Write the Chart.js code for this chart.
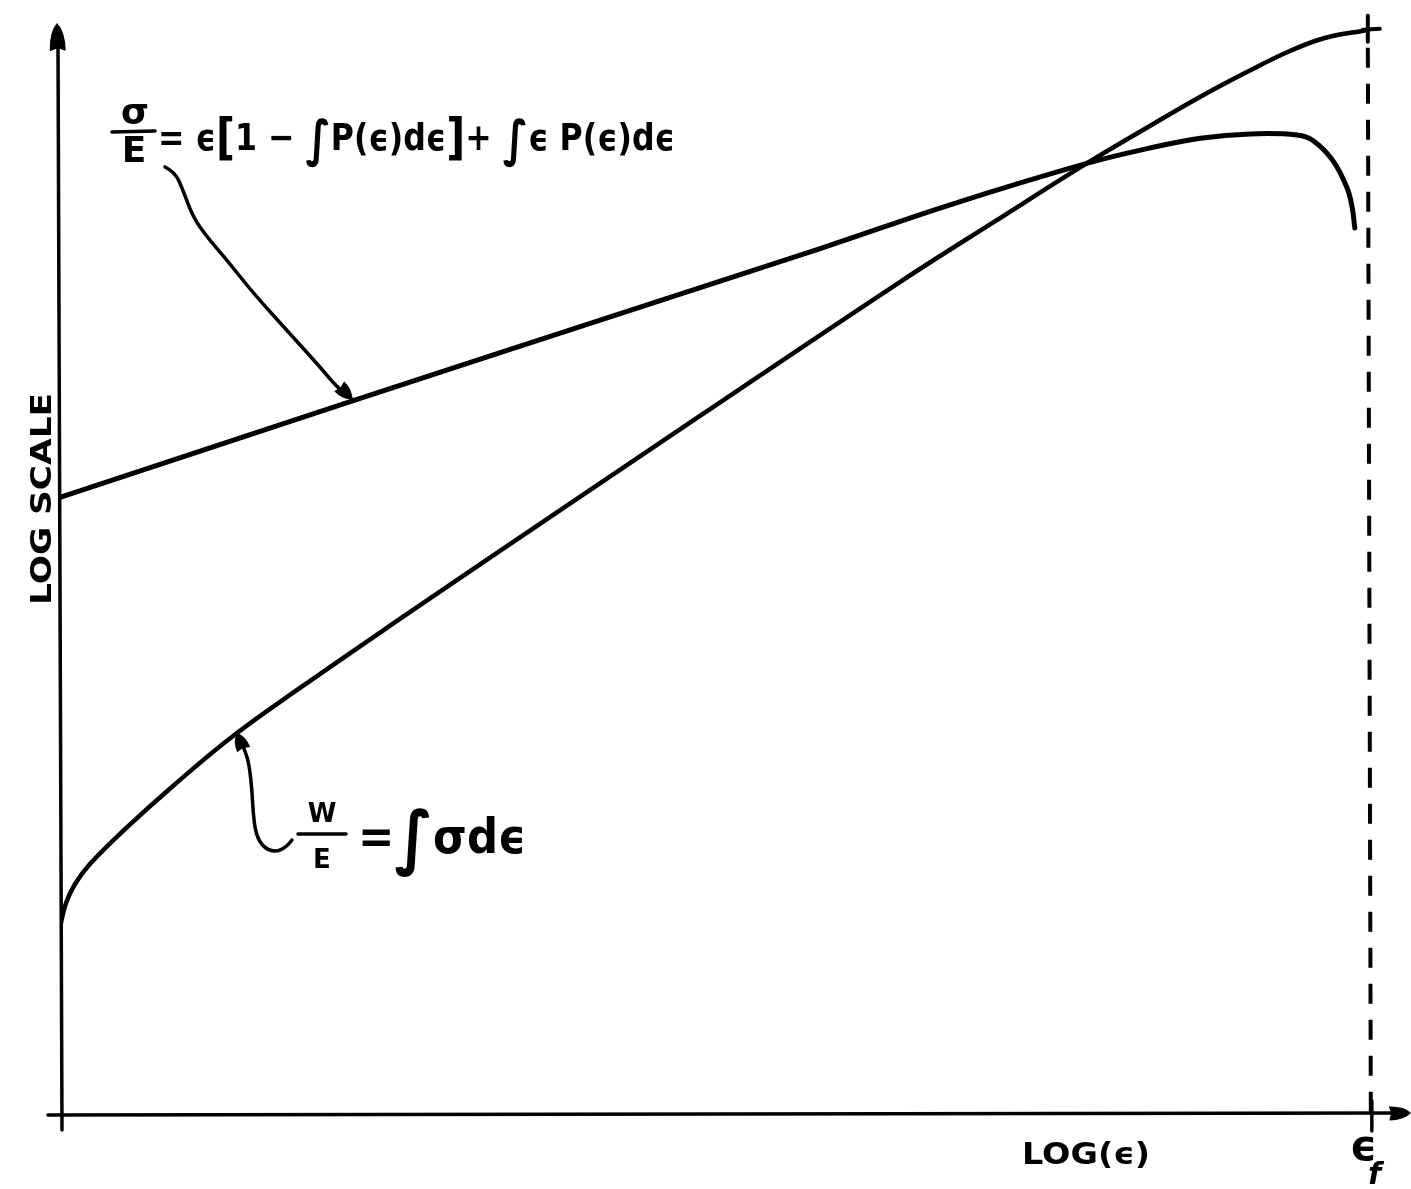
<!DOCTYPE html>
<html>
<head>
<meta charset="utf-8">
<script src="https://cdn.jsdelivr.net/npm/chart.js@4/dist/chart.umd.min.js"></script>
<style>
  html, body { margin: 0; padding: 0; background: #fff; }
  #wrap { width: 1411px; height: 1189px; position: relative; }
</style>
</head>
<body>
<div id="wrap"><canvas id="c"></canvas></div>
<script>
// ---- data (arbitrary schematic units: x = log strain, eps_f at 100; y = log scale) ----
const sigmaX = [0, 22.6, 33.6, 58.3, 68.0, 78.5, 83.3, 87.2, 91.0, 94.6, 95.8, 97.3, 98.4, 98.8, 99.0];
const sigmaY = [56.4, 65.3, 69.6, 79.2, 83.1, 86.9, 88.3, 89.2, 89.6, 89.5, 89.0, 87.2, 84.7, 82.9, 81.0];

const workX = [0, 0.46, 1.15, 2.29, 4.82, 8.64, 13.23, 18.35, 25.99, 33.64, 48.93, 64.22, 71.6, 78.5, 83.33, 87.16, 90.75, 94.04, 96.71, 100];
const workY = [17.17, 19.36, 21.10, 22.92, 25.94, 30.05, 34.61, 39.00, 45.30, 51.51, 63.84, 76.07, 81.7, 86.9, 90.32, 92.97, 95.25, 97.17, 98.36, 99.09];

const epsFailure = 100;

// leader (annotation) curves
const sigmaLeaderX = [8.03, 8.79, 9.40, 10.17, 11.24, 12.77, 14.76, 17.81, 19.88, 21.18, 22.32];
const sigmaLeaderY = [86.58, 86.12, 84.47, 82.01, 80.18, 78.08, 75.07, 71.05, 68.31, 66.48, 65.39];
const workLeaderX = [17.74, 17.35, 16.44, 15.60, 14.98, 14.76, 14.68, 14.45, 14.07, 13.53];
const workLeaderY = [25.11, 24.47, 24.02, 24.38, 25.57, 27.67, 29.68, 32.15, 33.52, 34.89];

const xAxisLabel = 'LOG(ϵ)';
const yAxisLabel = 'LOG SCALE';
const sigmaEquation = ['=', ' ϵ', '[', '1 − ', '∫', 'P(ϵ)dϵ', ']', '+ ', '∫', 'ϵ P(ϵ)dϵ'];
const workEquation = ['=', '∫', 'σdϵ'];

const zip = (xs, ys) => xs.map((x, i) => ({ x, y: ys[i] }));

const INK = '#000';
const FONT = '"DejaVu Sans", "Liberation Sans", sans-serif';

function drawArrowHead(ctx, tipX, tipY, fromX, fromY, len, halfW) {
  const a = Math.atan2(tipY - fromY, tipX - fromX);
  ctx.save();
  ctx.translate(tipX, tipY);
  ctx.rotate(a);
  ctx.beginPath();
  ctx.moveTo(0, 0);
  ctx.quadraticCurveTo(-len * 0.3, -halfW, -len, -halfW);
  ctx.lineTo(-len * 0.9, 0);
  ctx.lineTo(-len, halfW);
  ctx.quadraticCurveTo(-len * 0.3, halfW, 0, 0);
  ctx.closePath();
  ctx.fill();
  ctx.restore();
}

function smoothPath(ctx, pts) {
  ctx.beginPath();
  ctx.moveTo(pts[0][0], pts[0][1]);
  for (let i = 1; i < pts.length - 1; i++) {
    const mx = (pts[i][0] + pts[i + 1][0]) / 2;
    const my = (pts[i][1] + pts[i + 1][1]) / 2;
    ctx.quadraticCurveTo(pts[i][0], pts[i][1], mx, my);
  }
  const l = pts[pts.length - 1];
  ctx.lineTo(l[0], l[1]);
  ctx.stroke();
}

function fitText(ctx, text, x, y, targetW) {
  const w = ctx.measureText(text).width;
  ctx.save();
  ctx.translate(x, y);
  ctx.scale(targetW / w, 1);
  ctx.fillText(text, 0, 0);
  ctx.restore();
}

// draw a run of text pieces; big pieces (brackets, integrals) get a larger font
function drawPieces(ctx, pieces, x, y, size, bigSize, targetW) {
  const fontFor = p => (p === '∫' || p === '[' || p === ']') ? 'bold ' + bigSize + 'px ' + FONT : 'bold ' + size + 'px ' + FONT;
  let total = 0;
  const widths = pieces.map(p => { ctx.font = fontFor(p); const w = ctx.measureText(p).width; total += w; return w; });
  const k = targetW / total;
  ctx.save();
  ctx.translate(x, y);
  ctx.scale(k, 1);
  let cx = 0;
  pieces.forEach((p, i) => {
    ctx.font = fontFor(p);
    const dy = (p === '∫') ? bigSize * 0.12 : (p === '[' || p === ']') ? bigSize * 0.08 : 0;
    ctx.fillText(p, cx, dy);
    cx += widths[i];
  });
  ctx.restore();
}

const decor = {
  id: 'decor',
  afterDatasetsDraw(chart) {
    const ctx = chart.ctx;
    const xs = chart.scales.x, ys = chart.scales.y;
    const px = v => xs.getPixelForValue(v);
    const py = v => ys.getPixelForValue(v);
    const x0 = px(0), y0 = py(0);
    ctx.save();
    ctx.strokeStyle = INK;
    ctx.fillStyle = INK;
    ctx.lineCap = 'round';
    ctx.lineJoin = 'round';

    // y axis
    ctx.lineWidth = 3.5;
    ctx.beginPath();
    ctx.moveTo(x0 + 2, y0 + 15);
    ctx.lineTo(x0 - 2, py(100) + 25);
    ctx.stroke();
    drawArrowHead(ctx, x0 - 3, py(100) + 3, x0 - 2, py(100) + 40, 28, 8);

    // x axis
    ctx.beginPath();
    ctx.moveTo(x0 - 12, y0);
    ctx.lineTo(xs.right - 15, y0 - 2);
    ctx.stroke();
    drawArrowHead(ctx, xs.right, y0 - 2, xs.right - 40, y0 - 1, 22, 7);

    // eps_f tick on x axis
    const xf = px(epsFailure);
    ctx.lineWidth = 3.5;
    ctx.beginPath();
    ctx.moveTo(xf + 4, y0 - 14);
    ctx.lineTo(xf + 4, y0 + 16);
    ctx.stroke();

    // dashed failure line
    ctx.lineWidth = 4;
    ctx.setLineDash([20, 16]);
    ctx.lineCap = 'butt';
    ctx.beginPath();
    ctx.moveTo(xf, py(99.1) + 18);
    ctx.lineTo(xf + 3, y0);
    ctx.stroke();
    ctx.setLineDash([]);
    ctx.lineCap = 'round';

    // cross at the end of W/E
    ctx.lineWidth = 4;
    ctx.beginPath();
    ctx.moveTo(xf, py(99.1) - 14);
    ctx.lineTo(xf, py(99.1) + 12);
    ctx.moveTo(xf - 5, py(99.1));
    ctx.lineTo(xf + 12, py(99.1) - 1);
    ctx.stroke();

    // leader curves
    ctx.lineWidth = 3.5;
    const sl = sigmaLeaderX.map((v, i) => [px(v), py(sigmaLeaderY[i])]);
    smoothPath(ctx, sl);
    const sn = sl.length;
    drawArrowHead(ctx, sl[sn - 1][0], sl[sn - 1][1], sl[sn - 3][0], sl[sn - 3][1], 18, 7);
    const wl = workLeaderX.map((v, i) => [px(v), py(workLeaderY[i])]);
    smoothPath(ctx, wl);
    const wn = wl.length;
    drawArrowHead(ctx, wl[wn - 1][0], wl[wn - 1][1], wl[wn - 3][0], wl[wn - 3][1], 18, 7);

    // sigma/E equation
    ctx.textBaseline = 'alphabetic';
    ctx.font = 'bold 36px ' + FONT;
    ctx.textAlign = 'center';
    ctx.fillText('σ', 135, 124);
    ctx.fillText('E', 134, 162);
    ctx.lineWidth = 3.5;
    ctx.beginPath();
    ctx.moveTo(112, 132); ctx.lineTo(155, 131); ctx.stroke();
    ctx.textAlign = 'left';
    drawPieces(ctx, sigmaEquation, 158, 150, 38, 50, 517);

    // W/E equation
    ctx.font = 'bold 26px ' + FONT;
    ctx.textAlign = 'center';
    ctx.fillText('W', 322, 822);
    ctx.fillText('E', 322, 868);
    ctx.beginPath();
    ctx.moveTo(298, 834); ctx.lineTo(346, 834); ctx.stroke();
    ctx.textAlign = 'left';
    drawPieces(ctx, workEquation, 358, 853, 48, 70, 168);

    // axis labels
    ctx.font = 'bold 30px ' + FONT;
    ctx.textAlign = 'left';
    fitText(ctx, xAxisLabel, 1022, 1164, 128);
    ctx.font = 'bold 42px ' + FONT;
    ctx.fillText('ϵ', 1350, 1160);
    ctx.font = 'bold italic 30px ' + FONT;
    ctx.fillText('f', 1368, 1184);

    ctx.save();
    ctx.translate(51, 605);
    ctx.rotate(-Math.PI / 2);
    ctx.font = 'bold 28px ' + FONT;
    fitText(ctx, yAxisLabel, 0, 0, 212);
    ctx.restore();

    ctx.restore();
  }
};

new Chart(document.getElementById('c'), {
  type: 'line',
  data: {
    datasets: [
      {
        label: 'σ/E',
        data: zip(sigmaX, sigmaY),
        borderColor: INK,
        borderWidth: 5,
        pointRadius: 0,
        tension: 0.4,
        fill: false
      },
      {
        label: 'W/E',
        data: zip(workX, workY),
        borderColor: INK,
        borderWidth: 4.5,
        pointRadius: 0,
        tension: 0.4,
        fill: false
      }
    ]
  },
  options: {
    responsive: true,
    maintainAspectRatio: false,
    animation: false,
    layout: { padding: { left: 60, right: 0, top: 20, bottom: 74 } },
    plugins: { legend: { display: false }, tooltip: { enabled: false }, title: { display: false } },
    scales: {
      x: { type: 'linear', min: 0, max: 103.3, display: false },
      y: { type: 'linear', min: 0, max: 100, display: false }
    },
    elements: { line: { borderCapStyle: 'round', borderJoinStyle: 'round' } }
  },
  plugins: [decor]
});
</script>
</body>
</html>
